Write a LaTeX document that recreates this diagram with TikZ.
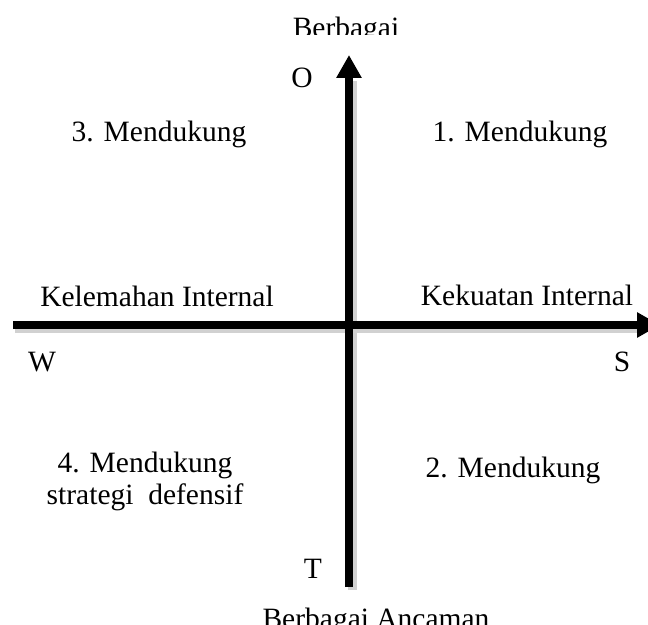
\documentclass[tikz,border=0pt]{standalone}
\usepackage{fontspec}
\setmainfont{Liberation Serif}
\usetikzlibrary{arrows.meta}

\begin{document}
\begin{tikzpicture}[x=0.5pt,y=-0.5pt,
  lbl/.style={inner sep=0pt,anchor=base,font=\fontsize{14.75}{17}\selectfont},
  axis/.style={line width=3.8pt,-{Triangle[length=11.5pt,width=12pt]}},
  axshadow/.style={line width=4.5pt,black!18}]
\useasboundingbox (0,0) rectangle (648,625);
\clip (0,0) rectangle (648,625);
% axes
\coordinate (t1) at (349,587);
\coordinate (t2) at (349,55);
\coordinate (h1) at (13,325);
\coordinate (h2) at (660,325);
\draw[axshadow] ([shift={(2,4)}]h1) -- ([shift={(2,4)}]637,325);
\draw[axshadow] ([shift={(3,3)}]t1) -- ([shift={(3,3)}]349,78);
\draw[axis] (t1)--(t2);
\draw[axis] (h1)--(h2);
% labels
\begin{scope}
\clip (0,0) rectangle (648,35);
\node[lbl] (top) at (346,38) {Berbagai};
\end{scope}
\node[lbl] (O) at (302,88) {O};
\node[lbl] (m3) at (159,142) {3. Mendukung};
\node[lbl] (m1) at (520,142) {1. Mendukung};
\node[lbl] (ki) at (157,307) {Kelemahan Internal};
\node[lbl] (ke) at (527,306) {Kekuatan Internal};
\node[lbl] (W) at (42,372) {W};
\node[lbl] (S) at (622,372) {S};
\node[lbl] (m4) at (145,473) {4. Mendukung};
\node[lbl] (m4b) at (145,505) {strategi\ \ defensif};
\node[lbl] (m2) at (513,478) {2. Mendukung};
\node[lbl] (T) at (313,578) {T};
\node[lbl] (bot) at (376,628) {Berbagai Ancaman};
\end{tikzpicture}
\end{document}
